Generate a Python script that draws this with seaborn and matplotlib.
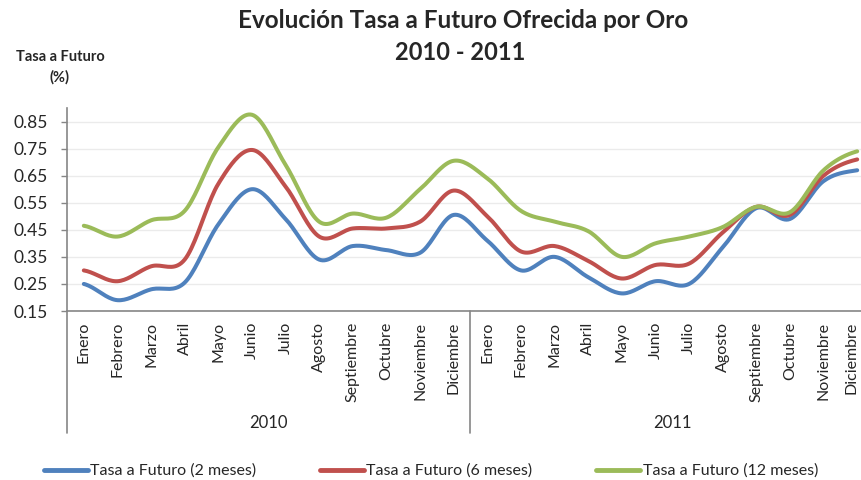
import numpy as np
import pandas as pd
import matplotlib
matplotlib.use("Agg")
import matplotlib.pyplot as plt
import matplotlib.transforms as mtransforms
from matplotlib.lines import Line2D
import seaborn as sns

# Data
months = ["Enero", "Febrero", "Marzo", "Abril", "Mayo", "Junio", "Julio", "Agosto",
          "Septiembre", "Octubre", "Noviembre", "Diciembre"]
years = ["2010", "2011"]
series_names = ["Tasa a Futuro (2 meses)", "Tasa a Futuro (6 meses)", "Tasa a Futuro (12 meses)"]

tasa_2m = [0.25, 0.19, 0.23, 0.255, 0.47, 0.60, 0.49, 0.34, 0.39, 0.375, 0.365, 0.505,
           0.41, 0.30, 0.35, 0.275, 0.215, 0.26, 0.25, 0.385, 0.53, 0.49, 0.63, 0.67]
tasa_6m = [0.30, 0.26, 0.315, 0.34, 0.62, 0.745, 0.61, 0.425, 0.455, 0.455, 0.48, 0.595,
           0.50, 0.37, 0.39, 0.335, 0.27, 0.32, 0.325, 0.44, 0.535, 0.505, 0.65, 0.71]
tasa_12m = [0.465, 0.425, 0.485, 0.52, 0.755, 0.875, 0.69, 0.48, 0.51, 0.495, 0.60, 0.705,
            0.64, 0.52, 0.48, 0.445, 0.35, 0.40, 0.425, 0.46, 0.535, 0.515, 0.67, 0.74]

colors = ["#4F81BD", "#C0504D", "#9BBB59"]


def smooth(y, steps=20):
    # Catmull-Rom curve through the points, like Excel's "smoothed line"
    y = np.asarray(y, dtype=float)
    p = np.concatenate([[y[0]], y, [y[-1]]])
    xs, ys = [], []
    t = np.linspace(0, 1, steps, endpoint=False)
    for i in range(len(y) - 1):
        p0, p1, p2, p3 = p[i], p[i + 1], p[i + 2], p[i + 3]
        yy = 0.5 * ((2 * p1) + (-p0 + p2) * t + (2 * p0 - 5 * p1 + 4 * p2 - p3) * t ** 2
                    + (-p0 + 3 * p1 - 3 * p2 + p3) * t ** 3)
        xs.extend(i + t)
        ys.extend(yy)
    xs.append(len(y) - 1)
    ys.append(y[-1])
    return np.array(xs), np.array(ys)


frames = []
for name, vals in zip(series_names, [tasa_2m, tasa_6m, tasa_12m]):
    x, y = smooth(vals)
    frames.append(pd.DataFrame({"x": x, "tasa": y, "serie": name}))
df = pd.concat(frames, ignore_index=True)

sns.set_style("white")
plt.rcParams["font.family"] = ["Lato", "DejaVu Sans"]

fig = plt.figure(figsize=(8.62, 4.8), dpi=100)
ax = fig.add_axes([67 / 862, 1 - 311 / 480, 807 / 862, 203 / 480])

sns.lineplot(data=df, x="x", y="tasa", hue="serie", palette=colors, linewidth=2.9,
             estimator=None, legend=False, ax=ax, solid_capstyle="round")

ax.set_xlim(-0.5, 23.5)
ax.set_ylim(0.15, 0.90)
ax.set_yticks(np.arange(0.15, 0.86, 0.1))
ax.set_yticklabels([f"{v:.2f}" for v in np.arange(0.15, 0.86, 0.1)], fontsize=12.5)
ax.yaxis.grid(True, color="#EBEBEB", linewidth=1)
ax.set_axisbelow(True)

ax.set_xticks(range(24))
ax.set_xticklabels(months * 2, rotation=90, fontsize=11.5)
ax.tick_params(axis="x", length=0, pad=8)
ax.tick_params(axis="y", length=4, width=1, color="#868686", direction="out", left=True, pad=10)
ax.set_xlabel("")
ax.set_ylabel("")

# last month label sits right at the figure edge; nudge it inside
last = ax.get_xticklabels()[-1]
last.set_transform(last.get_transform() + mtransforms.ScaledTranslation(-4 / 72, 0, fig.dpi_scale_trans))

for side in ["top", "right"]:
    ax.spines[side].set_visible(False)
for side in ["left", "bottom"]:
    ax.spines[side].set_color("#868686")
    ax.spines[side].set_linewidth(1.2)

# category group separators and year labels
trans = mtransforms.blended_transform_factory(ax.transData, ax.transAxes)
for xs in [-0.5, 11.5]:
    ax.plot([xs, xs], [0, -122 / 203], transform=trans, color="#868686", lw=1.2, clip_on=False)
for k, yr in enumerate(years):
    ax.text(5.5 + 12 * k, -112 / 203, yr, transform=trans, ha="center", va="center", fontsize=12)

fig.text(463 / 862, 1 - 20 / 480, "Evolución Tasa a Futuro Ofrecida por Oro",
         ha="center", va="center", fontsize=17.5, fontweight="bold")
fig.text(460 / 862, 1 - 52 / 480, "2010 - 2011", ha="center", va="center",
         fontsize=17, fontweight="bold")
fig.text(60 / 862, 1 - 57 / 480, "Tasa a Futuro", ha="center", va="center",
         fontsize=10.5, fontweight="bold")
fig.text(60 / 862, 1 - 77 / 480, "(%)", ha="center", va="center",
         fontsize=10.5, fontweight="bold")

handles = [Line2D([0], [0], color=c, lw=3.5) for c in colors]
fig.legend(handles, series_names, loc="center", bbox_to_anchor=(0.5, 1 - 471 / 480),
           ncol=3, frameon=False, fontsize=11.5, handlelength=2.75, handletextpad=0.15,
           columnspacing=4.0)

fig.savefig("out.png", dpi=100)
plt.close(fig)
